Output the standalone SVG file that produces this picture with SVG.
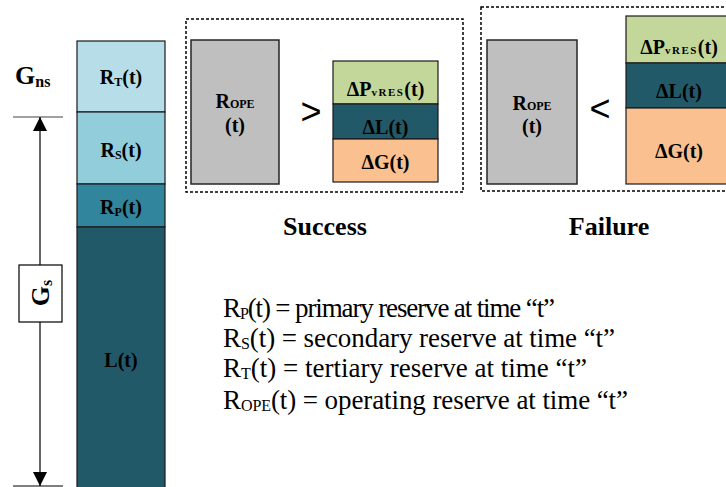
<svg xmlns="http://www.w3.org/2000/svg" width="726" height="487" viewBox="0 0 726 487">
  <style>
    .bt { font-family: "Liberation Serif", "Times New Roman", serif; font-weight: bold; fill: #000; }
    .rt { font-family: "Liberation Serif", "Times New Roman", serif; fill: #000; }
    .blk { stroke: #1a1a1a; stroke-width: 1.2; }
    .dash { fill: none; stroke: #000; stroke-width: 1.5; stroke-dasharray: 3 2; }
    .gray { fill: #bfbfbf; stroke: #262626; stroke-width: 1.5; }
    .cmp { font-family: "Liberation Sans", Arial, sans-serif; font-size: 36px; fill: #000; }
  </style>
  <defs>
    <marker id="ah" viewBox="0 0 14 20" refX="14" refY="10" markerWidth="14" markerHeight="20" markerUnits="userSpaceOnUse" orient="auto">
      <path d="M0,3 L14,10 L0,17 Z" fill="#000"/>
    </marker>
  </defs>

  <!-- reserve stack -->
  <g id="col-rt">
    <rect x="77" y="41" width="88" height="71" fill="#b7dee8" class="blk"/>
    <text class="bt" x="121" y="84" font-size="20" text-anchor="middle">R<tspan font-size="12" dy="2">T</tspan><tspan dy="-2">(t)</tspan></text>
  </g>
  <g id="col-rs">
    <rect x="77" y="112" width="88" height="72" fill="#92cddc" class="blk"/>
    <text class="bt" x="121" y="157" font-size="20" text-anchor="middle">R<tspan font-size="12" dy="2">S</tspan><tspan dy="-2">(t)</tspan></text>
  </g>
  <g id="col-rp">
    <rect x="77" y="184" width="88" height="43" fill="#31859c" class="blk"/>
    <text class="bt" x="121" y="214" font-size="20" text-anchor="middle">R<tspan font-size="12" dy="2">P</tspan><tspan dy="-2">(t)</tspan></text>
  </g>
  <g id="col-l">
    <rect x="77" y="227" width="88" height="265" fill="#215968" class="blk"/>
    <text class="bt" x="121" y="367" font-size="20" text-anchor="middle">L(t)</text>
  </g>

  <!-- generation labels -->
  <g id="gns">
    <text class="bt" x="15" y="84" font-size="26">G<tspan font-size="16" dy="3">ns</tspan></text>
  </g>
  <g id="gs">
    <rect x="19" y="265" width="43" height="57" fill="#fff" stroke="#000" stroke-width="1.2"/>
    <text class="bt" font-size="26" transform="translate(49,293) rotate(-90)" text-anchor="middle">G<tspan font-size="16" dy="3">s</tspan></text>
  </g>

  <!-- connectors -->
  <g id="connectors">
    <line x1="13" y1="117" x2="63" y2="117" stroke="#808080" stroke-width="1.5"/>
    <line x1="13" y1="486" x2="63" y2="486" stroke="#000" stroke-width="1.2"/>
    <line x1="40" y1="265" x2="40" y2="117" stroke="#000" stroke-width="1.2" marker-end="url(#ah)"/>
    <line x1="40" y1="322" x2="40" y2="486" stroke="#000" stroke-width="1.2" marker-end="url(#ah)"/>
  </g>

  <!-- success case -->
  <g id="success">
    <rect x="186" y="19" width="277" height="173" class="dash"/>
    <rect x="191" y="40" width="88" height="144" class="gray"/>
    <text class="bt" x="235" y="108" font-size="20" text-anchor="middle">R<tspan font-size="12">OPE</tspan></text>
    <text class="bt" x="235" y="132" font-size="20" text-anchor="middle">(t)</text>
    <text class="cmp" x="311" y="124" text-anchor="middle">&gt;</text>
    <rect x="333" y="61" width="105" height="43" fill="#c4d79b" class="blk"/>
    <rect x="333" y="104" width="105" height="35" fill="#215968" class="blk"/>
    <rect x="333" y="139" width="105" height="43" fill="#fac090" class="blk"/>
    <text class="bt" x="385.5" y="96" font-size="20" text-anchor="middle">ΔP<tspan font-size="11" letter-spacing="1.5">vRES</tspan>(t)</text>
    <text class="bt" x="385.5" y="134" font-size="20" text-anchor="middle">ΔL(t)</text>
    <text class="bt" x="385.5" y="169" font-size="20" text-anchor="middle">ΔG(t)</text>
    <text class="bt" x="325" y="235" font-size="26" text-anchor="middle">Success</text>
  </g>

  <!-- failure case -->
  <g id="failure">
    <rect x="481" y="7" width="260" height="184" class="dash"/>
    <rect x="487" y="40" width="90" height="144" class="gray"/>
    <text class="bt" x="532" y="110" font-size="20" text-anchor="middle">R<tspan font-size="12">OPE</tspan></text>
    <text class="bt" x="532" y="133" font-size="20" text-anchor="middle">(t)</text>
    <text class="cmp" x="600" y="121" text-anchor="middle">&lt;</text>
    <rect x="626" y="16" width="106" height="47" fill="#c4d79b" class="blk"/>
    <rect x="626" y="63" width="106" height="45" fill="#215968" class="blk"/>
    <rect x="626" y="108" width="106" height="76" fill="#fac090" class="blk"/>
    <text class="bt" x="679" y="54" font-size="20" text-anchor="middle">ΔP<tspan font-size="11" letter-spacing="1.5">vRES</tspan>(t)</text>
    <text class="bt" x="679" y="98" font-size="20" text-anchor="middle">ΔL(t)</text>
    <text class="bt" x="679" y="158" font-size="20" text-anchor="middle">ΔG(t)</text>
    <text class="bt" x="609" y="235" font-size="26" text-anchor="middle">Failure</text>
  </g>

  <!-- legend -->
  <g id="legend" class="rt" font-size="27">
    <text x="223" y="317" textLength="332" lengthAdjust="spacing">R<tspan font-size="16" dy="2">P</tspan><tspan dy="-2">(t) = primary reserve at time “t”</tspan></text>
    <text x="223" y="347" textLength="392" lengthAdjust="spacing">R<tspan font-size="16" dy="2">S</tspan><tspan dy="-2">(t) = secondary reserve at time “t”</tspan></text>
    <text x="223" y="377" textLength="364" lengthAdjust="spacing">R<tspan font-size="16" dy="2">T</tspan><tspan dy="-2">(t) = tertiary reserve at time “t”</tspan></text>
    <text x="223" y="409" textLength="405" lengthAdjust="spacing">R<tspan font-size="16" dy="2">OPE</tspan><tspan dy="-2">(t) = operating reserve at time “t”</tspan></text>
  </g>
</svg>
